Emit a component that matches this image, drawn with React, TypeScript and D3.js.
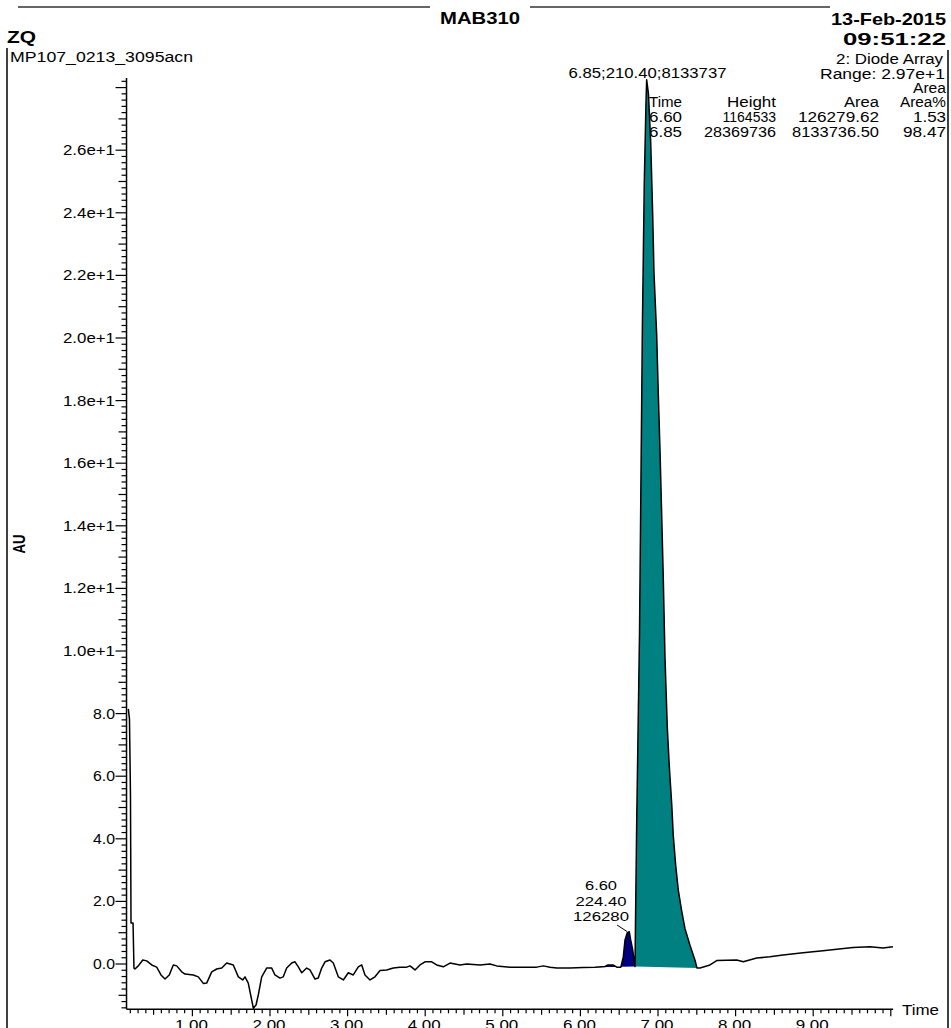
import React from "react";
import * as d3 from "d3";

// ---- data ----
const traceTime = [0.174,0.189,0.202,0.209,0.235,0.247,0.260,0.303,0.360,0.411,0.476,0.540,0.595,0.647,0.702,0.754,0.798,0.862,0.905,1.012,1.076,1.140,1.184,1.249,1.313,1.378,1.442,1.527,1.592,1.648,1.678,1.720,1.764,1.785,1.820,1.849,1.893,1.957,2.022,2.064,2.129,2.171,2.215,2.280,2.322,2.365,2.409,2.473,2.515,2.580,2.622,2.666,2.709,2.773,2.816,2.880,2.945,3.009,3.073,3.138,3.182,3.224,3.289,3.353,3.418,3.504,3.589,3.675,3.762,3.804,3.869,3.933,3.997,4.084,4.148,4.233,4.320,4.384,4.448,4.535,4.706,4.835,4.921,5.093,5.437,5.522,5.608,5.695,5.866,6.037,6.188,6.317,6.356,6.420,6.469,6.521,6.553,6.575,6.604,6.630,6.648,6.674,6.691,6.704,6.710,6.726,6.747,6.762,6.778,6.799,6.823,6.845,6.854,6.877,6.906,6.932,6.948,6.983,7.004,7.026,7.048,7.068,7.090,7.120,7.146,7.177,7.197,7.228,7.262,7.305,7.348,7.412,7.477,7.503,7.541,7.670,7.756,8.014,8.099,8.272,8.443,8.611,8.869,9.126,9.303,9.513,9.732,9.899,10.028];
const traceAU = [8.15,7.83,5.4,1.31,1.31,-0.13,-0.16,-0.06,0.13,0.10,-0.03,-0.10,-0.35,-0.48,-0.35,-0.03,-0.06,-0.25,-0.32,-0.35,-0.41,-0.62,-0.61,-0.25,-0.16,-0.13,0.03,-0.03,-0.41,-0.51,-0.41,-0.61,-1.15,-1.41,-1.31,-0.99,-0.41,-0.13,-0.13,-0.35,-0.45,-0.41,-0.13,0.03,0.07,-0.09,-0.28,-0.13,-0.19,-0.48,-0.45,-0.13,0.07,0.13,0.03,-0.41,-0.51,-0.28,-0.35,-0.09,-0.03,-0.35,-0.51,-0.41,-0.21,-0.19,-0.13,-0.10,-0.10,-0.06,-0.19,-0.03,0.07,0.07,-0.03,-0.09,0.03,0.0,-0.03,0.0,-0.03,0.0,-0.06,-0.10,-0.10,-0.06,-0.10,-0.13,-0.13,-0.11,-0.10,-0.08,-0.03,-0.03,-0.10,-0.10,0.23,0.77,1.0,1.03,0.77,0.45,0.13,-0.08,1.3,4.6,8.1,10.6,14.8,20.4,24.9,27.5,28.25,27.8,26.25,23.9,22.1,20.1,18.2,16.4,14.3,12.35,9.8,7.55,6.3,5.1,4.1,3.15,2.35,1.7,1.13,0.6,0.12,-0.13,-0.13,-0.03,0.11,0.13,0.07,0.19,0.23,0.29,0.36,0.42,0.47,0.53,0.55,0.51,0.55];

const peakStart = [6.037, 6.704];
const peakEnd = [6.704, 7.503];

const yTickValues = [0, 2, 4, 6, 8, 10, 12, 14, 16, 18, 20, 22, 24, 26];
const yTickLabels = ["0.0", "2.0", "4.0", "6.0", "8.0", "1.0e+1", "1.2e+1", "1.4e+1", "1.6e+1", "1.8e+1", "2.0e+1", "2.2e+1", "2.4e+1", "2.6e+1"];
const xTickValues = [1, 2, 3, 4, 5, 6, 7, 8, 9];
const xTickLabels = ["1.00", "2.00", "3.00", "4.00", "5.00", "6.00", "7.00", "8.00", "9.00"];

const tableHeader = ["Time", "Height", "Area", "Area%"];
const tableRows = [
  ["6.60", "1164533", "126279.62", "1.53"],
  ["6.85", "28369736", "8133736.50", "98.47"],
];

// ---- styles ----
const peakColors = ["#000080", "#008080"];
const FONT = "'Liberation Sans', Arial, sans-serif";

function T({ x, y, w, anchor = "start", size = 14, bold = false, children, transform }: any) {
  return (
    <text
      x={x}
      y={y}
      textLength={w}
      lengthAdjust={w ? "spacingAndGlyphs" : undefined}
      textAnchor={anchor}
      fontFamily={FONT}
      fontSize={size}
      fontWeight={bold ? "bold" : "normal"}
      fill="#000"
      transform={transform}
    >
      {children}
    </text>
  );
}

export default function App() {
  const W = 951, H = 1028;
  const x = d3.scaleLinear().domain([0, 10]).range([114.8, 890.8]);
  const y = d3.scaleLinear().domain([-1.447, 28.3]).range([1009.3, 78.2]);

  const pts: [number, number][] = traceTime.map((t, i) => [t, traceAU[i]]);
  const line = d3.line<[number, number]>().x((d) => x(d[0])).y((d) => y(d[1]));

  const axisX0 = x(0.151);
  const axisX1 = x(10.03);
  const axisYBottom = y(-1.447);
  const axisYTop = 78;

  const yMinor: number[] = [];
  for (let i = -7; i <= 141; i++) yMinor.push(i);
  const xMinor: number[] = [];
  for (let i = 2; i <= 100; i++) xMinor.push(i);

  const tableCols = [
    { a: "start", x: 649 },
    { a: "end", x: 776 },
    { a: "end", x: 879 },
    { a: "end", x: 946 },
  ];
  const headerW = [33, 49, 35, 46];
  const rowW = [
    [33, undefined, 81, 33],
    [33, 72, 87, 43],
  ];

  return (
    <svg width={W} height={H} style={{ position: "absolute", left: 0, top: 0, background: "#fff" }}>
      <rect x={0} y={0} width={W} height={H} fill="#fff" />
      {/* header */}
      <line x1={18} x2={430} y1={7} y2={7} stroke="#333" strokeWidth={1.5} />
      <line x1={530} x2={830} y1={7} y2={7} stroke="#333" strokeWidth={1.5} />
      <T x={480} y={24} w={80} anchor="middle" size={17} bold>MAB310</T>
      <T x={946} y={25} w={115} anchor="end" size={17} bold>13-Feb-2015</T>
      <T x={7} y={43} w={29} size={17} bold>ZQ</T>
      <T x={946} y={45} w={103} anchor="end" size={17} bold>09:51:22</T>
      <T x={10} y={62} w={183} size={14}>MP107_0213_3095acn</T>
      <T x={943} y={64} w={107} anchor="end" size={14}>2: Diode Array</T>
      <T x={945} y={79} w={125} anchor="end" size={14}>Range: 2.97e+1</T>

      {/* frame lines */}
      <line x1={7} x2={7} y1={48} y2={H} stroke="#000" strokeWidth={1.5} />
      <line x1={948} x2={948} y1={50} y2={H} stroke="#000" strokeWidth={1.5} />

      {/* peak fills */}
      {peakStart.map((s, k) => {
        const seg = pts.filter((p) => p[0] >= s - 1e-9 && p[0] <= peakEnd[k] + 1e-9);
        return <path key={k} d={(line(seg) || "") + "Z"} fill={peakColors[k]} stroke="none" />;
      })}

      {/* trace */}
      <path d={line(pts) || ""} fill="none" stroke="#000" strokeWidth={1.5} strokeLinejoin="round" />

      {/* y axis */}
      <line x1={axisX0} x2={axisX0} y1={axisYTop} y2={axisYBottom} stroke="#000" strokeWidth={1.5} />
      {yMinor.map((i) => {
        const v = i * 0.2;
        const len = i % 10 === 0 ? 11 : i % 5 === 0 ? 8 : 5;
        return <line key={i} x1={axisX0 - len} x2={axisX0} y1={y(v)} y2={y(v)} stroke="#000" strokeWidth={1.2} />;
      })}
      {yTickValues.map((v, i) => (
        <T key={v} x={115} y={y(v) + 5} w={yTickLabels[i].length > 3 ? 52 : 22} anchor="end" size={14}>
          {yTickLabels[i]}
        </T>
      ))}
      <T x={25} y={544} w={19} anchor="middle" size={17} bold transform="rotate(-90 25 544)">AU</T>

      {/* x axis */}
      <line x1={axisX0} x2={axisX1} y1={axisYBottom} y2={axisYBottom} stroke="#000" strokeWidth={1.5} />
      {xMinor.map((i) => {
        const t = i / 10;
        const xx = x(t);
        if (xx < axisX0 || xx > axisX1) return null;
        const len = i % 10 === 0 ? 7 : i % 5 === 0 ? 5.5 : 4;
        return <line key={i} x1={xx} x2={xx} y1={axisYBottom} y2={axisYBottom + len} stroke="#000" strokeWidth={1.2} />;
      })}
      {xTickValues.map((t, i) => (
        <T key={t} x={x(t) - 1} y={1030} w={33} anchor="middle" size={14}>{xTickLabels[i]}</T>
      ))}
      <T x={902} y={1015} w={37} size={15}>Time</T>

      {/* peak annotations */}
      <T x={647.5} y={78} w={158} anchor="middle" size={14}>6.85;210.40;8133737</T>
      <T x={946} y={93} w={33} anchor="end" size={14}>Area</T>
      {tableHeader.map((h, j) => (
        <T key={h} x={tableCols[j].x} y={107} w={headerW[j]} anchor={tableCols[j].a} size={14}>{h}</T>
      ))}
      {tableRows.map((r, i) =>
        r.map((c, j) => (
          <T key={i + "-" + j} x={tableCols[j].x} y={122 + i * 14.5} w={rowW[i][j]} anchor={tableCols[j].a} size={14}>{c}</T>
        ))
      )}

      <T x={601} y={890} w={32} anchor="middle" size={13}>6.60</T>
      <T x={601} y={906} w={51} anchor="middle" size={13}>224.40</T>
      <T x={601} y={921} w={56} anchor="middle" size={13}>126280</T>
      <line x1={617} y1={925} x2={627} y2={931.5} stroke="#000" strokeWidth={1} />
    </svg>
  );
}
